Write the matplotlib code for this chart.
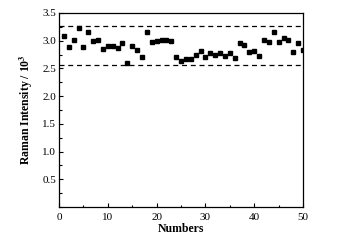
import matplotlib
matplotlib.use('Agg')
import matplotlib.pyplot as plt
from matplotlib.ticker import MultipleLocator

plt.rcParams['font.family'] = ['Liberation Serif', 'DejaVu Serif']
plt.rcParams['mathtext.fontset'] = 'stix'

# measurement index and Raman intensity (x 10^3)
numbers = list(range(1, 51))
intensity = [3.09, 2.89, 3.02, 3.22, 2.89, 3.15, 3.00, 3.01, 2.85, 2.91,
             2.90, 2.86, 2.95, 2.59, 2.91, 2.84, 2.70, 3.16, 2.98, 3.00,
             3.01, 3.01, 2.99, 2.71, 2.63, 2.67, 2.67, 2.74, 2.82, 2.71,
             2.77, 2.74, 2.78, 2.73, 2.77, 2.69, 2.95, 2.92, 2.80, 2.82,
             2.72, 3.02, 2.98, 3.15, 2.98, 3.05, 3.01, 2.79, 2.95, 2.83]
bounds = [3.27, 2.56]   # dashed reference lines
yticks = [0.5, 1.0, 1.5, 2.0, 2.5, 3.0, 3.5]
xticks = [0, 10, 20, 30, 40, 50]

fig = plt.figure(figsize=(3.44, 2.40), dpi=100)
ax = fig.add_axes([0.1715, 0.1375, 0.7095, 0.8085])

ax.plot(numbers, intensity, 's', color='black', ms=3.2, mec='black')
for b in bounds:
    ax.axhline(b, color='black', lw=0.9, ls=(0, (4, 3)))

ax.set_xlim(0, 50)
ax.set_ylim(0, 3.5)
ax.set_xticks(xticks)
ax.set_yticks(yticks)
ax.xaxis.set_minor_locator(MultipleLocator(5))
ax.yaxis.set_minor_locator(MultipleLocator(0.25))
ax.tick_params(which='both', direction='in', labelsize=8, width=0.8)
ax.tick_params(which='major', length=3)
ax.tick_params(which='minor', length=1.8)
ax.tick_params(axis='x', pad=4)
ax.tick_params(axis='y', pad=2)
for s in ax.spines.values():
    s.set_linewidth(0.9)

ax.set_xlabel('Numbers', fontsize=8.5, fontweight='bold', labelpad=1)
ax.set_ylabel('Raman Intensity / 10$^\\mathbf{3}$', fontsize=8.5,
              fontweight='bold', labelpad=5)

fig.savefig('out.png', dpi=100, facecolor='white')
